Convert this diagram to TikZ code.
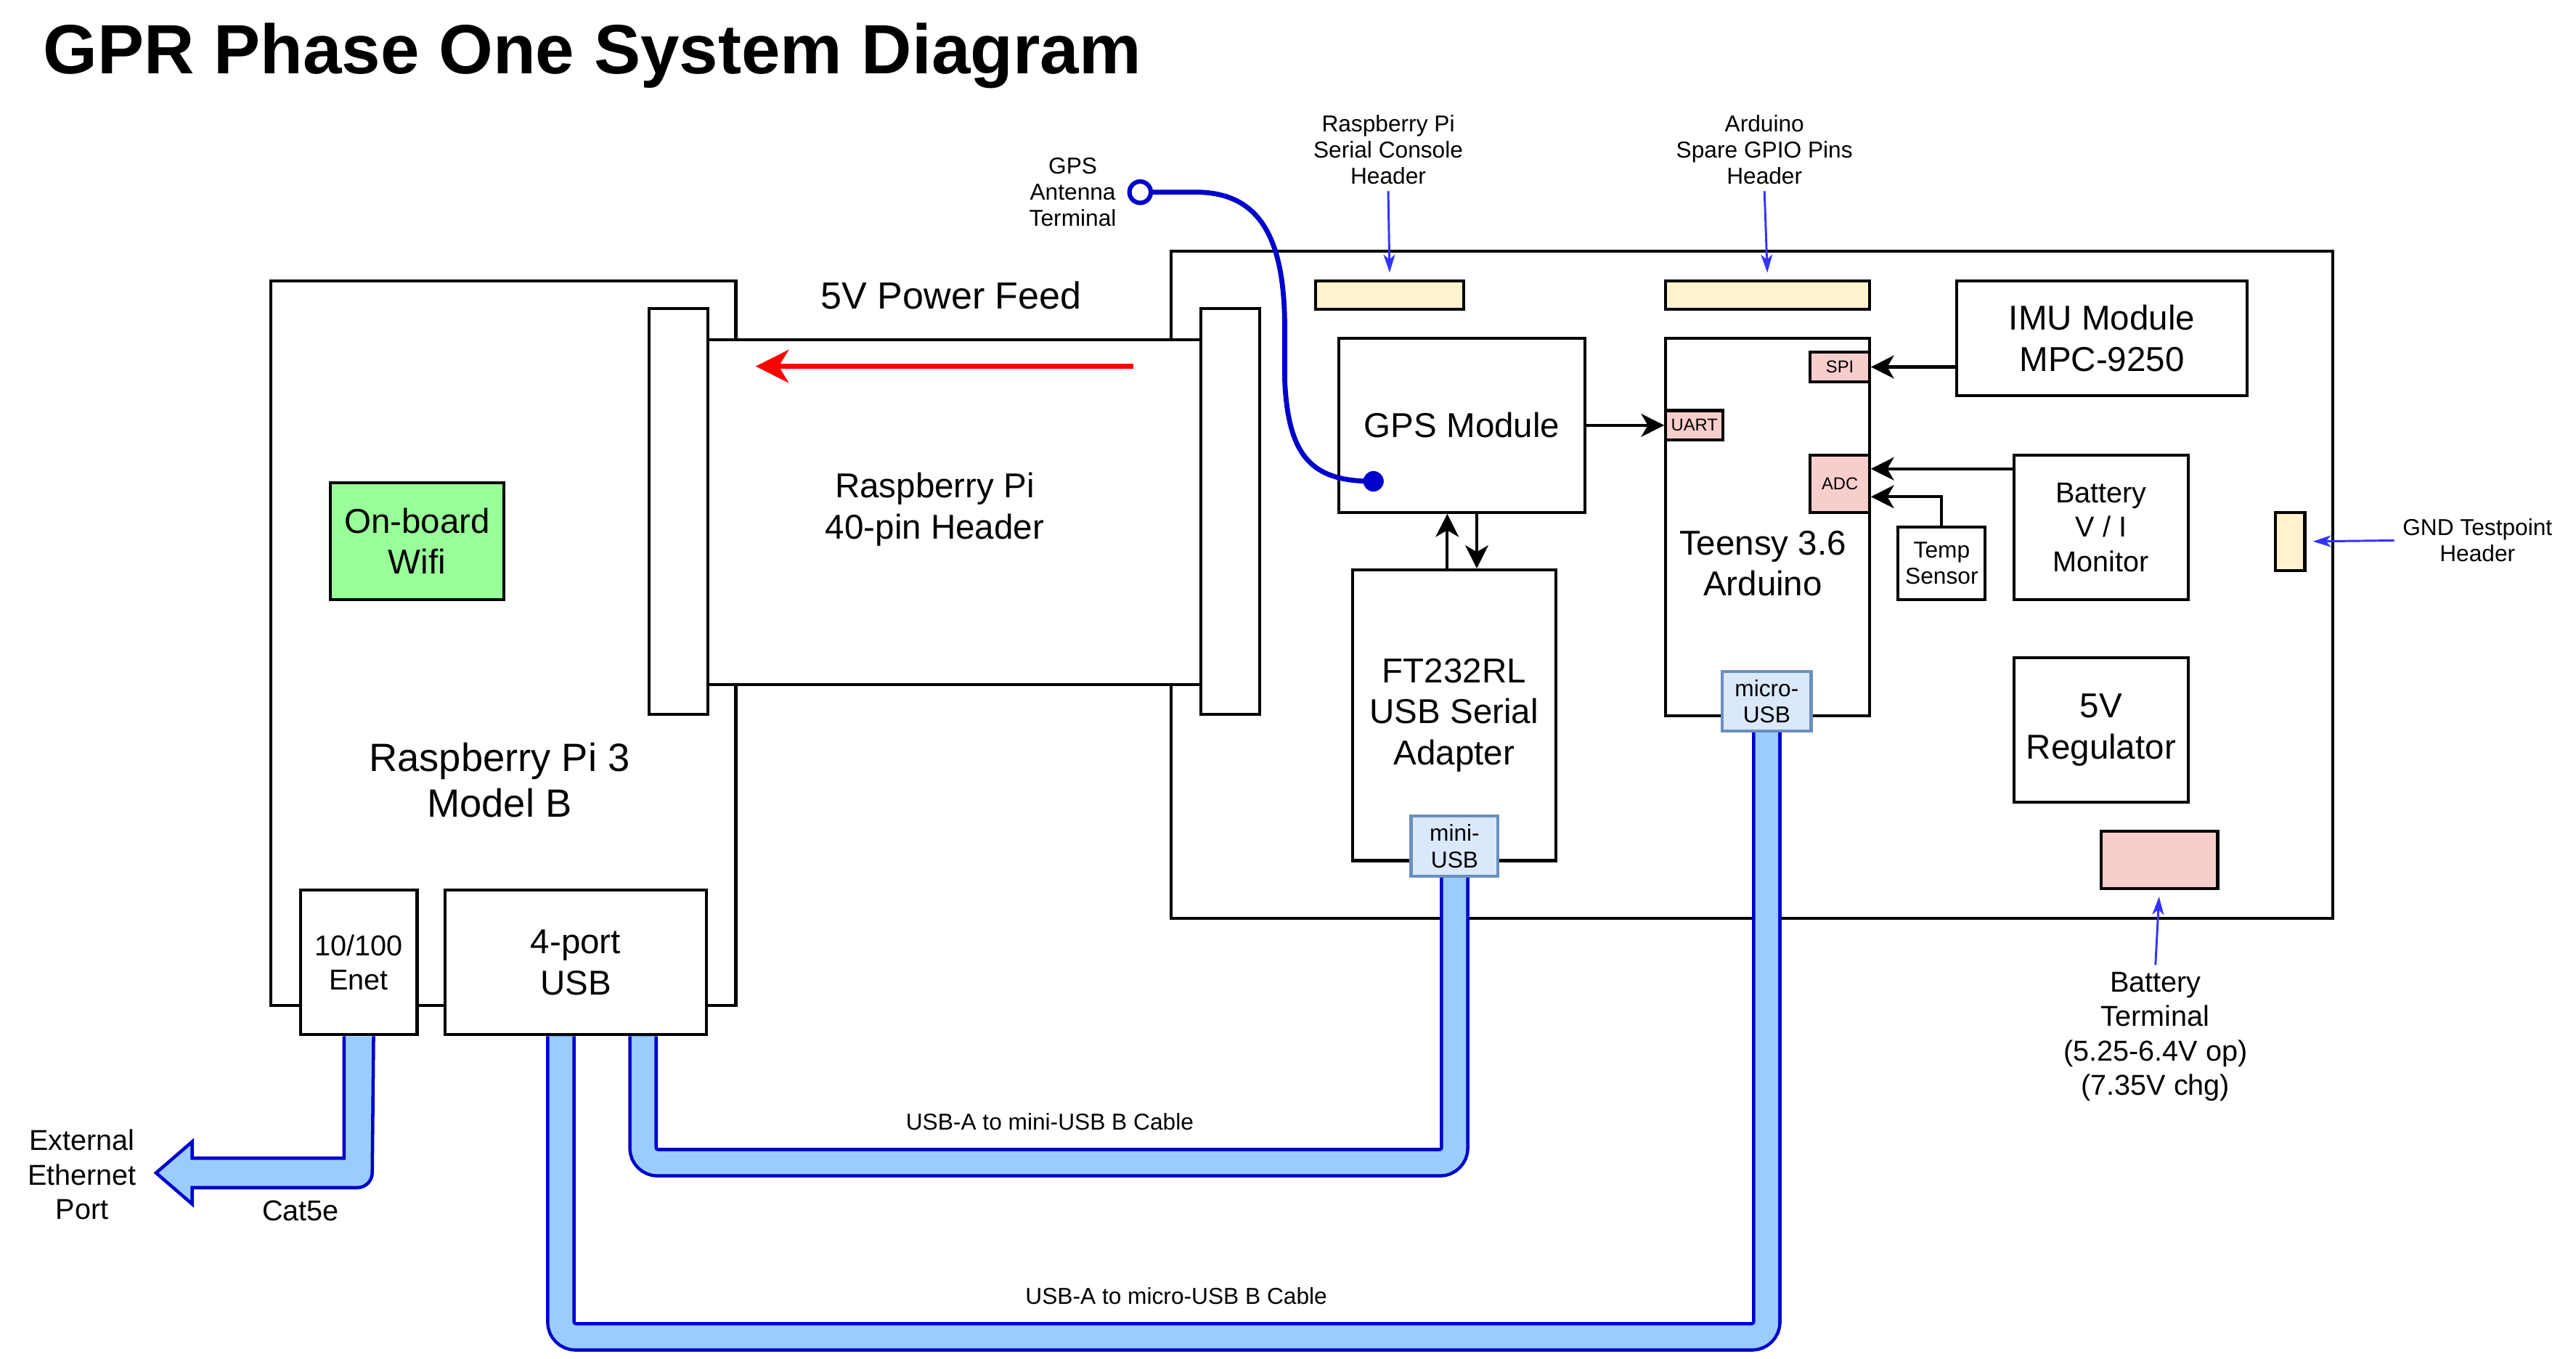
\documentclass[tikz,border=0pt]{standalone}
\usepackage{fontspec}
\setmainfont{Liberation Sans}
\usepackage{tikz}
\usetikzlibrary{arrows.meta, calc, positioning}

\definecolor{wifigreen}{HTML}{99FF99}
\definecolor{hdryellow}{HTML}{FFF2CC}
\definecolor{pinkfill}{HTML}{F8CECC}
\definecolor{usbfill}{HTML}{DAE8FC}
\definecolor{usbedge}{HTML}{6C8EBF}
\definecolor{cablefill}{HTML}{99CCFF}
\definecolor{cableedge}{HTML}{0000CC}
\definecolor{lblblue}{HTML}{3333FF}

\begin{document}
\begin{tikzpicture}[x=1pt, y=-1pt,
    blk/.style={draw, line width=1.8pt, fill=white, anchor=north west, inner sep=0pt, align=center},
    txt/.style={inner sep=0pt, align=center},
    fA/.style={font=\fontsize{24}{28}\selectfont},
    fB/.style={font=\fontsize{21}{25}\selectfont},
    fC/.style={font=\fontsize{17.5}{21}\selectfont},
    fD/.style={font=\fontsize{14}{16}\selectfont},
    fE/.style={font=\fontsize{10.5}{12}\selectfont},
    arr/.style={-{Stealth[length=14pt,width=14pt,inset=4pt]}, line width=1.8pt},
    lblarr/.style={-{Stealth[length=11pt,width=7pt,inset=3pt]}, draw=lblblue, line width=1.3pt, shorten >=4pt},
    pwrarr/.style={-{Stealth[length=20pt,width=20pt,inset=6pt]}, draw=red, line width=3.2pt},
    cable/.style={draw=cableedge, line width=2pt, double=cablefill, double distance=14pt, rounded corners=9pt},
    ethcable/.style={draw=cableedge, line width=2pt, fill=cablefill},
    antline/.style={draw=cableedge, line width=3pt}]
\useasboundingbox (0,0) rectangle (1568,827);

\node[anchor=base west, inner sep=0pt, font=\fontsize{42.5}{50}\selectfont\bfseries] (title) at (26,45) {GPR Phase One System Diagram};

\node[blk, minimum width=283pt, minimum height=441pt] (rpi) at (164,170) {};
\node[blk, minimum width=707pt, minimum height=406pt] (mainbrd) at (712,152) {};
\node[blk, minimum width=300pt, minimum height=210pt] (ribbon) at (430,206) {};
\node[txt, fB] (ribbonlbl) at (569,310) {Raspberry Pi\\40-pin Header};
\node[blk, minimum width=36pt, minimum height=247pt] (hdrL) at (394,187) {};
\node[blk, minimum width=36pt, minimum height=247pt] (hdrR) at (730,187) {};
\node[txt, font=\fontsize{23}{27}\selectfont] (pwrlbl) at (579,180) {5V Power Feed};

\node[blk, fB, fill=wifigreen, minimum width=106pt, minimum height=71pt] (wifi) at (200,293) {On-board\\Wifi};
\node[txt, fA] (rpilbl) at (304,475) {Raspberry Pi 3\\Model B};
\node[blk, fC, minimum width=71pt, minimum height=88pt] (enet) at (182,541) {10/100\\Enet};
\node[blk, fB, minimum width=159pt, minimum height=88pt] (usb4) at (270,541) {4-port\\USB};

\node[blk, fill=hdryellow, minimum width=90pt, minimum height=17.5pt] (serhdr) at (800,170) {};
\node[blk, fill=hdryellow, minimum width=124pt, minimum height=17.5pt] (ardhdr) at (1013,170) {};
\node[blk, fB, minimum width=150pt, minimum height=106pt] (gps) at (814,205) {GPS Module};
\node[blk, fB, minimum width=123.6pt, minimum height=177pt] (ftdi) at (822.4,346) {FT232RL\\USB Serial\\Adapter};
\node[blk, minimum width=124pt, minimum height=230pt] (teensy) at (1013,205) {};
\node[txt, fB] (teensylbl) at (1073,343) {Teensy 3.6\\Arduino};
\node[blk, fE, fill=pinkfill, minimum width=35pt, minimum height=18pt] (uart) at (1013,249) {UART};
\node[blk, fE, fill=pinkfill, minimum width=36pt, minimum height=18pt] (spi) at (1101,213.5) {SPI};
\node[blk, fE, fill=pinkfill, minimum width=36pt, minimum height=35pt] (adc) at (1101,276) {ADC};
\node[blk, fD, fill=usbfill, draw=usbedge, minimum width=54pt, minimum height=36pt] (micro) at (1047.5,408) {micro-\\USB};
\node[blk, fD, fill=usbfill, draw=usbedge, minimum width=53pt, minimum height=36.5pt] (mini) at (858,496) {mini-\\USB};
\node[blk, fB, minimum width=177pt, minimum height=70pt] (imu) at (1190,170) {IMU Module\\MPC-9250};
\node[blk, fC, minimum width=106pt, minimum height=88pt] (batmon) at (1225,276) {Battery\\V / I\\Monitor};
\node[blk, fD, minimum width=53pt, minimum height=44pt] (temp) at (1154.5,320) {Temp\\Sensor};
\node[blk, fB, minimum width=106pt, minimum height=88pt] (vreg) at (1225,399.5) {5V\\Regulator};
\node[blk, fill=pinkfill, minimum width=71pt, minimum height=35pt] (batterm) at (1278,505) {};
\node[blk, fill=hdryellow, minimum width=18pt, minimum height=35.5pt] (gndhdr) at (1384,311) {};

\node[txt, fD] (serlbl) at (845,91) {Raspberry Pi\\Serial Console\\Header};
\node[txt, fD] (ardlbl) at (1074,91) {Arduino\\Spare GPIO Pins\\Header};
\node[txt, fD] (gndlbl) at (1508,329) {GND Testpoint\\Header};
\node[txt, fC] (battlbl) at (1312,631) {Battery\\Terminal\\(5.25-6.4V op)\\(7.35V chg)};
\node[txt, fD] (antlbl) at (653,117) {GPS\\Antenna\\Terminal};
\node[txt, fC] (ethlbl) at (50,715) {External\\Ethernet\\Port};
\node[txt, fC] (cat5lbl) at (183,737) {Cat5e};
\node[txt, fD] (minilbl) at (639,683) {USB-A to mini-USB B Cable};
\node[txt, fD] (microlbl) at (716,789) {USB-A to micro-USB B Cable};

\draw[lblarr] ([yshift=-4pt]serlbl.south) -- (serhdr.north);
\draw[lblarr] ([yshift=-4pt]ardlbl.south) -- (ardhdr.north);
\draw[lblarr] ([xshift=-5pt]gndlbl.west) -- (gndhdr.east);
\draw[lblarr] ([yshift=4pt]battlbl.north) -- (batterm.south);

\draw[arr] (gps.east) -- (uart.west);
\draw[arr] (spi.east -| imu.west) -- (spi.east);
\coordinate (adcA) at ([yshift=9pt]adc.east);
\coordinate (adcB) at ([yshift=-8pt]adc.east);
\draw[arr] (adcA -| batmon.west) -- (adcA);
\draw[arr] (temp.north) |- (adcB);
\coordinate (gpsA) at ([xshift=-9pt]gps.south);
\coordinate (gpsB) at ([xshift=9pt]gps.south);
\draw[arr] (gpsA |- ftdi.north) -- (gpsA);
\draw[arr] (gpsB) -- (gpsB |- ftdi.north);

\coordinate (pwrsrc) at (690,223);
\coordinate (pwrdst) at (460,223);
\draw[pwrarr] (pwrsrc) -- (pwrdst);

\node[circle, draw=cableedge, line width=2.7pt, fill=white, minimum size=13pt, inner sep=0pt] (ant) at (694,117) {};
\node[circle, fill=cableedge, minimum size=12.5pt, inner sep=0pt] (antdot) at (836,293) {};
\draw[antline] (ant.east) -- ++(28,0) .. controls +(40,1) and +(0,-50) .. (782,200) -- ++(0,31) .. controls +(2,49) and +(-36,0) .. (antdot.center);

\draw[cable] ([xshift=41pt]usb4.south) -- ++(0,77) -| (mini.south);
\draw[cable] ([xshift=-9pt]usb4.south) -- ++(0,183) -| (micro.south);

\coordinate (ethtip) at (95,714);
\draw[ethcable] ([xshift=-9pt]enet.south) |- ($(ethtip)+(22,-9)$) -- ++(0,-10) -- (ethtip) -- ++(22,19) -- ++(0,-10) -- ++(85,0) [rounded corners=9pt] -- ++(24.5,0) -- ([xshift=9pt]enet.south);
\end{tikzpicture}
\end{document}
